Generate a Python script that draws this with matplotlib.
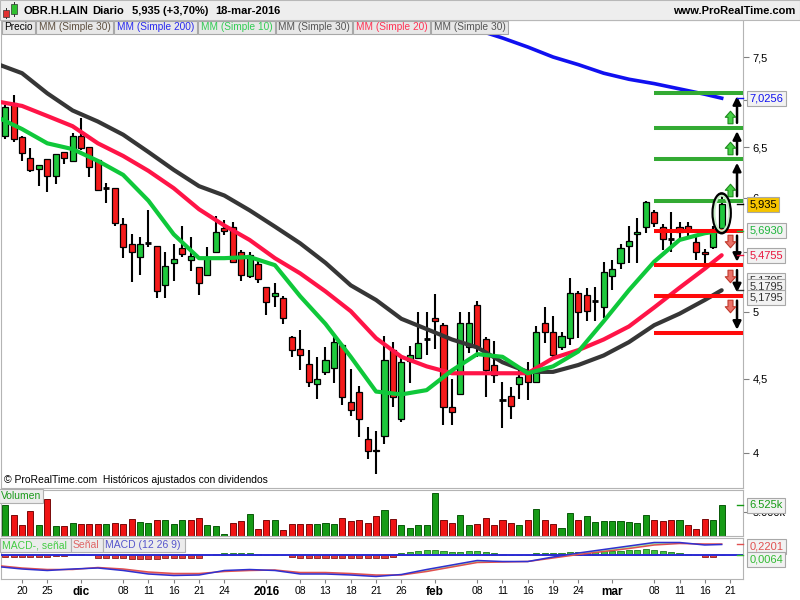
import numpy as np
import pandas as pd
import matplotlib
matplotlib.use('Agg')
import matplotlib.pyplot as plt
from matplotlib.patches import Rectangle, Ellipse
from matplotlib.path import Path
from matplotlib.transforms import blended_transform_factory, offset_copy
from matplotlib.ticker import NullLocator

plt.rcParams['font.family'] = ['Liberation Sans', 'DejaVu Sans']

# ---------------- data ----------------
holidays = ['2015-12-25', '2016-01-01']
days = [d.strftime('%Y-%m-%d') for d in pd.bdate_range('2015-11-17', '2016-03-21')]
days = [d for d in days if d not in holidays]
candle_days = days[1:-1]          # 18-nov-2015 .. 18-mar-2016

opens = [6.62, 6.97, 6.61, 6.39, 6.28, 6.38, 6.21, 6.45, 6.36, 6.62,
         6.50, 6.37, 6.09, 6.09, 5.75, 5.57, 5.46, 5.58, 5.56, 5.22,
         5.41, 5.54, 5.43, 5.37, 5.31, 5.50, 5.72, 5.73, 5.50, 5.30,
         5.40, 5.21, 5.13, 5.12, 4.81, 4.72, 4.61, 4.46, 4.55, 4.58,
         4.75, 4.34, 4.41, 4.09, 4.02, 4.11, 4.71, 4.22, 4.63, 4.65,
         4.79, 4.96, 4.90, 4.30, 4.39, 4.73, 5.06, 4.79, 4.60, 4.35,
         4.38, 4.46, 4.54, 4.48, 4.92, 4.85, 4.73, 4.80, 5.16, 5.14,
         5.09, 5.04, 5.30, 5.41, 5.56, 5.66, 5.73, 5.86, 5.73, 5.62,
         5.73, 5.74, 5.59, 5.50, 5.55, 5.72]
highs = [6.95, 7.06, 6.62, 6.49, 6.32, 6.38, 6.43, 6.45, 6.65, 6.81,
         6.50, 6.37, 6.14, 6.09, 5.81, 5.66, 5.64, 5.88, 5.56, 5.50,
         5.57, 5.74, 5.64, 5.37, 5.55, 5.83, 5.79, 5.77, 5.52, 5.50,
         5.43, 5.21, 5.24, 5.13, 4.82, 4.86, 4.71, 4.66, 4.73, 4.81,
         4.75, 4.57, 4.45, 4.17, 4.14, 4.82, 4.77, 4.66, 4.74, 5.00,
         5.00, 5.15, 4.92, 4.50, 5.00, 5.00, 5.09, 4.81, 4.78, 4.48,
         4.44, 4.58, 4.62, 4.89, 5.04, 4.97, 4.85, 5.28, 5.17, 5.20,
         5.21, 5.42, 5.43, 5.57, 5.74, 5.81, 5.97, 5.88, 5.75, 5.86,
         5.77, 5.77, 5.66, 5.53, 5.74, 6.03]
lows = [6.59, 6.55, 6.36, 6.25, 6.11, 6.05, 6.13, 6.33, 6.35, 6.47,
        6.20, 6.06, 5.95, 5.74, 5.45, 5.25, 5.31, 5.55, 5.12, 5.12,
        5.26, 5.46, 5.34, 5.14, 5.30, 5.50, 5.65, 5.41, 5.26, 5.28,
        5.24, 4.98, 5.04, 4.91, 4.66, 4.56, 4.44, 4.36, 4.53, 4.47,
        4.32, 4.24, 4.10, 3.96, 3.87, 4.06, 4.30, 4.20, 4.47, 4.65,
        4.67, 4.72, 4.18, 4.18, 4.39, 4.69, 4.66, 4.37, 4.47, 4.16,
        4.22, 4.36, 4.35, 4.48, 4.76, 4.65, 4.71, 4.75, 4.80, 4.93,
        4.93, 4.96, 5.18, 5.36, 5.41, 5.41, 5.67, 5.73, 5.52, 5.50,
        5.63, 5.63, 5.43, 5.41, 5.53, 5.68]
closes = [6.93, 6.58, 6.44, 6.27, 6.32, 6.21, 6.43, 6.39, 6.62, 6.49,
          6.30, 6.07, 6.09, 5.76, 5.55, 5.50, 5.57, 5.58, 5.17, 5.38,
          5.44, 5.49, 5.47, 5.24, 5.45, 5.68, 5.69, 5.42, 5.31, 5.48,
          5.27, 5.08, 5.16, 4.96, 4.71, 4.67, 4.48, 4.50, 4.64, 4.77,
          4.37, 4.28, 4.22, 4.01, 4.01, 4.64, 4.37, 4.62, 4.67, 4.76,
          4.79, 4.93, 4.30, 4.27, 4.92, 4.92, 4.73, 4.56, 4.53, 4.35,
          4.31, 4.51, 4.48, 4.85, 4.85, 4.67, 4.82, 5.16, 5.00, 5.01,
          5.09, 5.33, 5.36, 5.54, 5.60, 5.68, 5.96, 5.76, 5.62, 5.62,
          5.68, 5.70, 5.50, 5.49, 5.71, 5.935]
volume = [6525, 4400, 2270, 5250, 2270, 7800, 2060, 2060, 2830, 2490,
          2490, 2490, 2610, 2830, 2490, 3680, 2980, 2830, 3340, 3340,
          2610, 3340, 3340, 3890, 2270, 2060, 360, 2830, 3120, 4610,
          1550, 3460, 3460, 1210, 2490, 2610, 2490, 2610, 2830, 2490,
          3890, 3120, 3340, 2830, 4190, 5460, 3550, 2400, 1760, 2400,
          2400, 8990, 3460, 2830, 4400, 2400, 2610, 3890, 2400, 3460,
          2830, 2400, 3340, 5800, 3460, 2490, 1760, 4950, 3340, 4190,
          2980, 3120, 3120, 3120, 2980, 2830, 4400, 3340, 3120, 3340,
          3340, 2270, 1550, 3680, 3460, 6525]
volume_up = [1, 0, 0, 0, 1, 0, 1, 0, 1, 0,
             0, 0, 1, 0, 0, 0, 1, 1, 0, 1,
             1, 1, 0, 0, 1, 1, 1, 0, 0, 1,
             0, 0, 1, 0, 0, 0, 0, 1, 1, 1,
             0, 0, 0, 0, 0, 1, 0, 1, 1, 1,
             1, 1, 0, 0, 1, 1, 0, 0, 0, 0,
             0, 1, 0, 1, 0, 0, 1, 1, 0, 1,
             1, 1, 1, 1, 1, 1, 1, 0, 0, 0,
             1, 0, 0, 0, 1, 1]

ma_days = ['2015-11-17', '2015-11-20', '2015-11-25', '2015-11-30', '2015-12-03',
           '2015-12-08', '2015-12-11', '2015-12-16', '2015-12-21', '2015-12-24',
           '2015-12-30', '2016-01-05', '2016-01-08', '2016-01-13', '2016-01-18',
           '2016-01-21', '2016-01-26', '2016-01-29', '2016-02-03', '2016-02-08',
           '2016-02-11', '2016-02-16', '2016-02-19', '2016-02-24', '2016-02-29',
           '2016-03-03', '2016-03-08', '2016-03-11', '2016-03-16', '2016-03-18']
ma10 = [6.82, 6.69, 6.54, 6.48, 6.36, 6.22, 5.97, 5.66, 5.45, 5.45,
        5.46, 5.39, 5.13, 4.91, 4.66, 4.41, 4.39, 4.42, 4.56, 4.68,
        4.66, 4.54, 4.59, 4.70, 4.93, 5.18, 5.42, 5.61, 5.67, 5.693]
ma20 = [6.99, 6.94, 6.83, 6.72, 6.54, 6.41, 6.26, 6.09, 5.89, 5.74,
        5.61, 5.45, 5.32, 5.17, 5.01, 4.80, 4.66, 4.59, 4.54, 4.54,
        4.54, 4.54, 4.65, 4.71, 4.79, 4.89, 5.04, 5.20, 5.36, 5.4755]
ma30 = [7.42, 7.31, 7.08, 6.89, 6.77, 6.63, 6.45, 6.27, 6.11, 6.02,
        5.88, 5.73, 5.58, 5.41, 5.22, 5.10, 4.95, 4.87, 4.79, 4.73,
        4.62, 4.55, 4.55, 4.60, 4.67, 4.77, 4.90, 4.99, 5.10, 5.1795]
ma200_days = ['2016-02-08', '2016-02-11', '2016-02-16', '2016-02-19', '2016-02-24',
              '2016-02-29', '2016-03-03', '2016-03-08', '2016-03-11', '2016-03-16',
              '2016-03-18']
ma200 = [7.83, 7.73, 7.62, 7.50, 7.41, 7.31, 7.24, 7.19, 7.13, 7.07, 7.0256]

macd = [-0.23, -0.28, -0.31, -0.28, -0.26, -0.31, -0.38, -0.41, -0.40, -0.31,
        -0.29, -0.31, -0.38, -0.38, -0.40, -0.43, -0.39, -0.29, -0.20, -0.11,
        -0.13, -0.13, -0.04, 0.04, 0.11, 0.18, 0.25, 0.25, 0.20, 0.21]
macd_signal = [-0.21, -0.26, -0.29, -0.29, -0.25, -0.28, -0.34, -0.37, -0.37, -0.33,
               -0.31, -0.30, -0.35, -0.35, -0.37, -0.40, -0.40, -0.33, -0.24, -0.15,
               -0.14, -0.13, -0.06, 0.01, 0.07, 0.13, 0.20, 0.23, 0.22, 0.2201]
macd_hist = [-0.03, -0.03, -0.03, -0.03, -0.03, -0.03, -0.02, -0.02, 0.03, 0.03,
             0.0, -0.05, -0.06, -0.06, -0.06, -0.07, -0.08, -0.08, -0.07, -0.06,
             -0.06, -0.06, -0.05, -0.05, 0.0, 0.02, 0.04, 0.04, 0.04, 0.04,
             0.03, 0.0, 0.0, 0.0, -0.04, -0.06, -0.06, -0.06, -0.06, -0.06,
             -0.06, -0.06, -0.06, -0.06, -0.06, -0.05, -0.03, 0.033, 0.053, 0.08,
             0.10, 0.10, 0.08, 0.06, 0.06, 0.073, 0.073, 0.06, 0.04, 0.02,
             0.0, 0.0, 0.0, 0.033, 0.033, 0.033, 0.033, 0.06, 0.06, 0.06,
             0.073, 0.073, 0.08, 0.087, 0.10, 0.10, 0.127, 0.10, 0.08, 0.06,
             0.033, 0.013, -0.005, -0.033, -0.033, 0.0064]

up_targets = [5.967, 6.376, 6.704, 7.087]
down_targets = [5.692, 5.389, 5.134, 4.838]
targets_from = '2016-03-08'

tick_days = ['2015-11-20', '2015-11-25', '2015-12-01', '2015-12-08', '2015-12-11',
             '2015-12-16', '2015-12-21', '2015-12-24', '2016-01-04', '2016-01-08',
             '2016-01-13', '2016-01-18', '2016-01-21', '2016-01-26', '2016-02-01',
             '2016-02-08', '2016-02-11', '2016-02-16', '2016-02-19', '2016-02-24',
             '2016-03-01', '2016-03-08', '2016-03-11', '2016-03-16', '2016-03-21']
tick_labels = ['20', '25', 'dic', '08', '11', '16', '21', '24', '2016', '08', '13', '18',
               '21', '26', 'feb', '08', '11', '16', '19', '24', 'mar', '08', '11', '16', '21']
price_ticks = [4, 4.5, 5, 5.5, 6, 6.5, 7, 7.5]
price_tick_labels = ['4', '4,5', '5', '', '6', '6,5', '', '7,5']

# ---------------- colours ----------------
GREEN = '#1ec83c'
RED = '#f51b1b'
GRID = '#b4b4b4'

pos = {d: k for k, d in enumerate(days)}
xc = np.array([pos[d] for d in candle_days])
o, h, l, c = (np.array(v) for v in (opens, highs, lows, closes))

fig = plt.figure(figsize=(8, 6), dpi=100)
W, H = 800.0, 600.0


def frac(x0, y0, x1, y1):
    return [x0 / W, 1 - y1 / H, (x1 - x0) / W, (y1 - y0) / H]


ax = fig.add_axes(frac(1, 20, 743, 488))
axv = fig.add_axes(frac(1, 490, 743, 536), sharex=ax)
axm = fig.add_axes(frac(1, 538, 743, 579), sharex=ax)
for a in (ax, axv, axm):
    for s in a.spines.values():
        s.set_color(GRID)
    a.tick_params(axis='x', bottom=False, labelbottom=False)

# ---------------- price panel ----------------
ax.set_yscale('log')
ax.vlines(xc, l, h, color='black', lw=1.5, zorder=3)
up, dn, dj = c > o, c < o, c == o
ax.bar(xc[up], c[up] - o[up], bottom=o[up], width=0.72, color=GREEN,
       edgecolor='black', linewidth=0.9, zorder=4)
ax.bar(xc[dn], o[dn] - c[dn], bottom=c[dn], width=0.72, color=RED,
       edgecolor='black', linewidth=0.9, zorder=4)
ax.hlines(c[dj], xc[dj] - 0.36, xc[dj] + 0.36, color='black', lw=2, zorder=4)

xm = [pos[d] for d in ma_days]
ax.plot(xm, ma30, color='#363636', lw=3, zorder=5, solid_capstyle='round')
ax.plot(xm, ma20, color='#ff1447', lw=3, zorder=5, solid_capstyle='round')
ax.plot(xm, ma10, color='#0fc83a', lw=3, zorder=5, solid_capstyle='round')
ax.plot([pos[d] for d in ma200_days], ma200, color='#1010f0', lw=2.6, zorder=5)

xmin, xmax = 0.509, 88.53
x0 = pos[targets_from]
ax.hlines(up_targets, x0, xmax, color='#33aa33', lw=2.9, zorder=6)
ax.hlines(down_targets, x0, xmax, color='#ff0a0a', lw=2.9, zorder=6)

# black arrows between consecutive targets
xa = pos[days[-1]]
for levels in (up_targets, down_targets):
    for a_, b_ in zip(levels[:-1], levels[1:]):
        ax.annotate('', xy=(xa + 0.82, b_), xytext=(xa + 0.82, a_),
                    arrowprops=dict(arrowstyle='-|>', color='black', lw=1.8,
                                    mutation_scale=12, shrinkA=3.5, shrinkB=2.5),
                    annotation_clip=False, zorder=7)

# block arrows
arrow_up = Path([(-0.2, -0.5), (0.2, -0.5), (0.2, 0.02), (0.42, 0.02), (0, 0.5),
                 (-0.42, 0.02), (-0.2, 0.02), (-0.2, -0.5)],
                [Path.MOVETO] + [Path.LINETO] * 6 + [Path.CLOSEPOLY])
arrow_dn = Path(arrow_up.vertices * np.array([1, -1]), arrow_up.codes)
tr_up = offset_copy(ax.transData, fig=fig, x=0, y=8, units='points')
tr_dn = offset_copy(ax.transData, fig=fig, x=0, y=-7.5, units='points')
ax.plot([xa] * 3, up_targets[:-1], ls='none', marker=arrow_up, ms=9,
        mfc='#45d045', mec='#1d8a1d', mew=0.8, transform=tr_up, zorder=7, clip_on=False)
ax.plot([xa] * 3, down_targets[:-1], ls='none', marker=arrow_dn, ms=9,
        mfc='#ea7168', mec='#c0392b', mew=0.8, transform=tr_dn, zorder=7, clip_on=False)

# ellipse around last candle
xl = xc[-1]
ax.add_patch(Ellipse((xl, (h[-1] + l[-1]) / 2), 2.1, (h[-1] - l[-1]) * 1.05,
                     fill=False, ec='black', lw=2, zorder=8))
ax.add_patch(Ellipse((xl, (h[-1] + l[-1]) / 2), 1.7, (h[-1] - l[-1]) * 0.93,
                     fill=False, ec='#c8eec8', lw=1.4, zorder=8))

ax.set_xlim(xmin, xmax)
ax.set_ylim(3.784, 7.954)
ax.yaxis.tick_right()
ax.set_yticks(price_ticks)
ax.set_yticklabels(price_tick_labels)
ax.yaxis.set_minor_locator(NullLocator())
ax.tick_params(axis='y', length=4, color='#808080', labelsize=8, pad=3)

ax.text(0.004, 0.017, '\u00a9 ProRealTime.com  Hist\u00f3ricos ajustados con dividendos',
        transform=ax.transAxes, fontsize=7.5, va='center', ha='left')


def value_box(axis, value, text, color, fc='#f2f2f2', dy=0, dash=True):
    tr = blended_transform_factory(axis.transAxes, axis.transData)
    if dash:
        axis.plot([0.992, 1.0], [value, value], color=color, lw=1, transform=tr,
                  clip_on=False, zorder=20)
    axis.annotate(text, xy=(1, value), xycoords=tr, xytext=(4.5, dy),
                  textcoords='offset points', ha='left', va='center', fontsize=8,
                  color=color, zorder=21, annotation_clip=False,
                  bbox=dict(boxstyle='square,pad=0.22', fc=fc, ec='#a8a8a8', lw=0.8))


value_box(ax, ma200[-1], '7,0256', '#1010f0')
value_box(ax, closes[-1], '5,935', 'black', fc='#f5c400')
value_box(ax, ma10[-1], '5,6930', '#1fb53c')
value_box(ax, ma20[-1], '5,4755', '#e8143c')
value_box(ax, ma30[-1], '5,1795', '#333333', dy=7.2)
value_box(ax, ma30[-1], '5,1795', '#333333', dy=2.9, dash=False)
value_box(ax, ma30[-1], '5,1795', '#333333', dy=-5.0, dash=False)

# ---------------- volume panel ----------------
vcol = [('#169b16' if u else '#f01414') for u in volume_up]
vedge = [('#0a5a0a' if u else '#7a0a0a') for u in volume_up]
axv.bar(xc, volume, width=0.72, color=vcol, edgecolor=vedge, linewidth=0.7)
axv.set_ylim(0, 9711)
axv.yaxis.tick_right()
axv.set_yticks([5000])
axv.set_yticklabels(['5.000k'])
axv.tick_params(axis='y', length=4, color='#808080', labelsize=8, pad=3)
value_box(axv, volume[-1], '6.525k', '#169b16')
axv.text(0.0, 0.985, 'Volumen', transform=axv.transAxes, fontsize=7.5, color='#1a9a1a',
         va='top', ha='left', bbox=dict(boxstyle='square,pad=0.2', fc='#ececec', ec='#b0b0b0', lw=0.8))

# ---------------- MACD panel ----------------
hist = np.array(macd_hist)
hcol = [('#3ec43e' if v >= 0 else '#e23b3b') for v in hist]
hedge = [('#1f7a1f' if v >= 0 else '#8a1c1c') for v in hist]
axm.bar(xc, hist, width=0.72, color=hcol, edgecolor=hedge, linewidth=0.6, zorder=2)
axm.axhline(0, color='#2b2bd4', lw=1.4, zorder=3)
mx = np.array(xm, dtype=float)
m1, m2 = np.array(macd), np.array(macd_signal)
axm.fill_between(mx, m1, m2, where=m1 >= m2, interpolate=True, color='#a6eea6', lw=0, zorder=3)
axm.fill_between(mx, m1, m2, where=m1 < m2, interpolate=True, color='#f2a0a0', lw=0, zorder=3)
axm.plot(mx, m2, color='#e05050', lw=1.1, zorder=4)
axm.plot(mx, m1, color='#3030d0', lw=1.1, zorder=4)
axm.set_ylim(-0.48, 0.34)
axm.set_yticks([])
value_box(axm, macd_signal[-1], '0,2201', '#e05050', dy=-2)
value_box(axm, macd_hist[-1], '0,0064', '#33bb33', dy=-3.3)

leg_m = [('MACD-, se\u00f1al', '#44cc44', 0, 71), ('Se\u00f1al', '#e06666', 71, 103),
         ('MACD (12 26 9)', '#5555cc', 103, 185)]
for txt, col, xa0, xa1 in leg_m:
    fig.add_artist(Rectangle((xa0 / W, 1 - 552 / H), (xa1 - xa0) / W, 14 / H,
                             transform=fig.transFigure, fc='#ececec', ec='#b0b0b0', lw=0.8, zorder=5))
    fig.text((xa0 + 2) / W, 1 - 545.5 / H, txt, color=col, fontsize=7.5, va='center', ha='left', zorder=6)

# x ticks
axm.tick_params(axis='x', bottom=True, labelbottom=True, length=3, color='#808080',
                labelsize=7.5, pad=2)
axm.set_xticks([pos[d] for d in tick_days])
axm.set_xticklabels(tick_labels)
for lab, txt in zip(axm.get_xticklabels(), tick_labels):
    if not txt.isdigit() or len(txt) == 4:
        lab.set_fontweight('bold')
        lab.set_fontsize(8.5)
axm.set_xlim(xmin, xmax)

# ---------------- header ----------------
fig.add_artist(Rectangle((0, 1 - 20 / H), 1, 20 / H, transform=fig.transFigure,
                         fc='#eeeeee', ec='#b8b8b8', lw=0.8, zorder=5))
head_y = 1 - 11 / H
for txt, xp in [('OBR.H.LAIN', 23), ('Diario', 92), ('5,935 (+3,70%)', 132), ('18-mar-2016', 215)]:
    fig.text(xp / W, head_y, txt, fontsize=8, fontweight='bold', va='center', ha='left', zorder=6)
fig.text(795 / W, head_y, 'www.ProRealTime.com', fontsize=8, fontweight='bold',
         va='center', ha='right', zorder=6)
# small candle icon
fig.add_artist(Rectangle((5.5 / W, 1 - 19 / H), 1 / W, 11 / H, transform=fig.transFigure,
                         fc='#333', ec='none', zorder=6))
fig.add_artist(Rectangle((3 / W, 1 - 17 / H), 6 / W, 7 / H, transform=fig.transFigure,
                         fc='#e03030', ec='#333', lw=0.5, zorder=6))
fig.add_artist(Rectangle((13.5 / W, 1 - 17 / H), 1 / W, 15 / H, transform=fig.transFigure,
                         fc='#333', ec='none', zorder=6))
fig.add_artist(Rectangle((11 / W, 1 - 14 / H), 6 / W, 10 / H, transform=fig.transFigure,
                         fc='#30c030', ec='#333', lw=0.5, zorder=6))

legend_items = [('Precio', 'black', 2, 35), ('MM (Simple 30)', '#5e5040', 36, 113),
                ('MM (Simple 200)', '#2a2aee', 114, 197), ('MM (Simple 10)', '#33cc55', 198, 275),
                ('MM (Simple 30)', '#555555', 276, 352), ('MM (Simple 20)', '#ff3355', 353, 430),
                ('MM (Simple 30)', '#555555', 431, 508)]
for txt, col, xa0, xa1 in legend_items:
    fig.add_artist(Rectangle((xa0 / W, 1 - 34 / H), (xa1 - xa0) / W, 13 / H,
                             transform=fig.transFigure, fc='#e8e8e8', ec='#a8a8a8', lw=0.8, zorder=5))
    fig.text((xa0 + xa1) / 2 / W, 1 - 27.5 / H, txt, color=col, fontsize=7.3,
             va='center', ha='center', zorder=6)

fig.savefig('out.png', dpi=100)
